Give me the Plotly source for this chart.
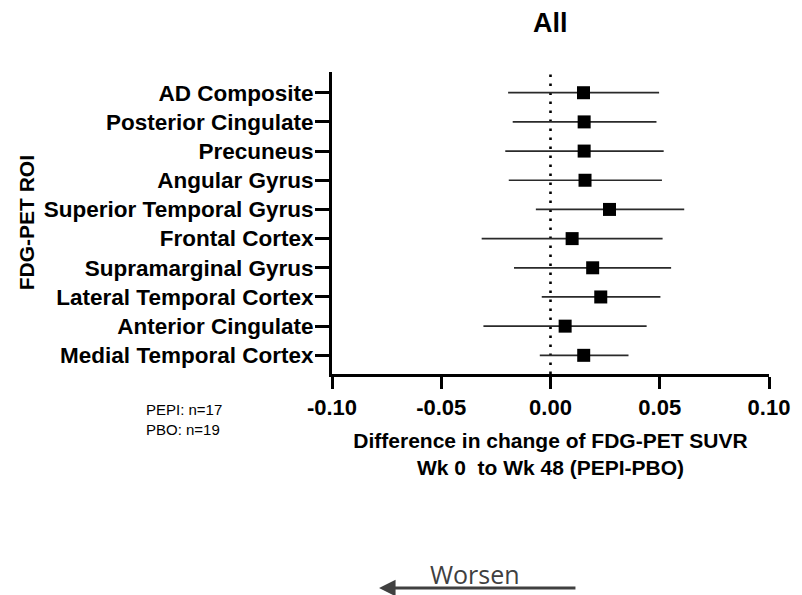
import plotly.graph_objects as go

regions = ["AD Composite", "Posterior Cingulate", "Precuneus", "Angular Gyrus",
           "Superior Temporal Gyrus", "Frontal Cortex", "Supramarginal Gyrus",
           "Lateral Temporal Cortex", "Anterior Cingulate", "Medial Temporal Cortex"]
estimate = [0.0151, 0.0154, 0.0154, 0.0158, 0.0270, 0.0099, 0.0193, 0.0230, 0.0067, 0.0152]
ci_low = [-0.0194, -0.0173, -0.0207, -0.0191, -0.0067, -0.0315, -0.0167, -0.0040, -0.0307, -0.0049]
ci_high = [0.0497, 0.0485, 0.0518, 0.0510, 0.0612, 0.0513, 0.0552, 0.0503, 0.0440, 0.0357]
x_ticks = [-0.10, -0.05, 0.00, 0.05, 0.10]
x_ticklabels = ["-0.10", "-0.05", "0.00", "0.05", "0.10"]

ypos = list(range(len(regions)))
err_plus = [h - e for h, e in zip(ci_high, estimate)]
err_minus = [e - l for e, l in zip(estimate, ci_low)]

# page has an 8px body margin; work in reference pixel coords and shift
OFF = 8
W, H = 802 - OFF, 595 - OFF
L, R, T, B = 332 - OFF, 778 - OFF, 72 - OFF, 374 - OFF
def px(x):
    return (x - OFF - L) / (R - L)
def py(y):
    return (B - (y - OFF)) / (B - T)

FONT = "Liberation Sans, Arial, sans-serif"

fig = go.Figure()
fig.add_trace(go.Scatter(
    x=estimate, y=ypos, mode="markers",
    marker=dict(symbol="square", size=13, color="black"),
    error_x=dict(type="data", symmetric=False, array=err_plus, arrayminus=err_minus,
                 color="#2a2a2a", thickness=1.7, width=0),
    showlegend=False, hoverinfo="x+y"))

fig.add_shape(type="line", xref="x", yref="paper", x0=0, x1=0, y0=0, y1=1,
              line=dict(color="black", width=2.6, dash="2.5px,6.5px"), layer="below")

fig.update_layout(
    width=W, height=H,
    margin=dict(l=L, r=W - R, t=T, b=H - B, pad=0),
    paper_bgcolor="white", plot_bgcolor="white",
    font=dict(family=FONT, color="black"),
    xaxis=dict(range=[-0.10, 0.10], tickvals=x_ticks, ticktext=x_ticklabels,
               showgrid=False, zeroline=False, showline=True, linecolor="black",
               linewidth=3, ticks="outside", ticklen=12, tickwidth=3, tickcolor="black",
               tickfont=dict(size=22, family=FONT, weight="bold"),
               ticklabelstandoff=0,
               title=dict(text="<b>Difference in change of FDG-PET SUVR<br>Wk 0&nbsp; to Wk 48 (PEPI-PBO)</b>",
                          font=dict(size=21, family=FONT), standoff=14)),
    yaxis=dict(range=[9.64, -0.71], tickvals=ypos, ticktext=regions,
               showgrid=False, zeroline=False, showline=True, linecolor="black",
               linewidth=3, ticks="outside", ticklen=14, tickwidth=2.5, tickcolor="black",
               tickfont=dict(size=22.5, family=FONT, weight="bold"),
               ticklabelstandoff=-3),
)

fig.add_annotation(text="<b>All</b>", xref="paper", yref="paper", x=px(555), y=py(23),
                   xanchor="center", yanchor="middle", showarrow=False, font=dict(size=27))
fig.add_annotation(text="<b>FDG-PET ROI</b>", xref="paper", yref="paper",
                   x=px(20), y=py(223), xanchor="center", yanchor="middle", textangle=-90,
                   showarrow=False, font=dict(size=21))
fig.add_annotation(text="PEPI: n=17<br>PBO: n=19", xref="paper", yref="paper",
                   x=px(140), y=py(419), xanchor="left", yanchor="middle", align="left",
                   showarrow=False, font=dict(size=15))
fig.add_annotation(text="Worsen", xref="paper", yref="paper", x=px(478), y=py(574),
                   xanchor="center", yanchor="middle", showarrow=False,
                   font=dict(size=25, family="Open Sans", color="#404040"))
fig.add_annotation(ax=px(582), ay=py(588), x=px(380), y=py(588),
                   xref="x domain", yref="y domain", axref="x domain", ayref="y domain",
                   text="", showarrow=True,
                   arrowhead=2, arrowsize=1.1, arrowwidth=3, arrowcolor="#404040")

fig.write_html("out.html")
